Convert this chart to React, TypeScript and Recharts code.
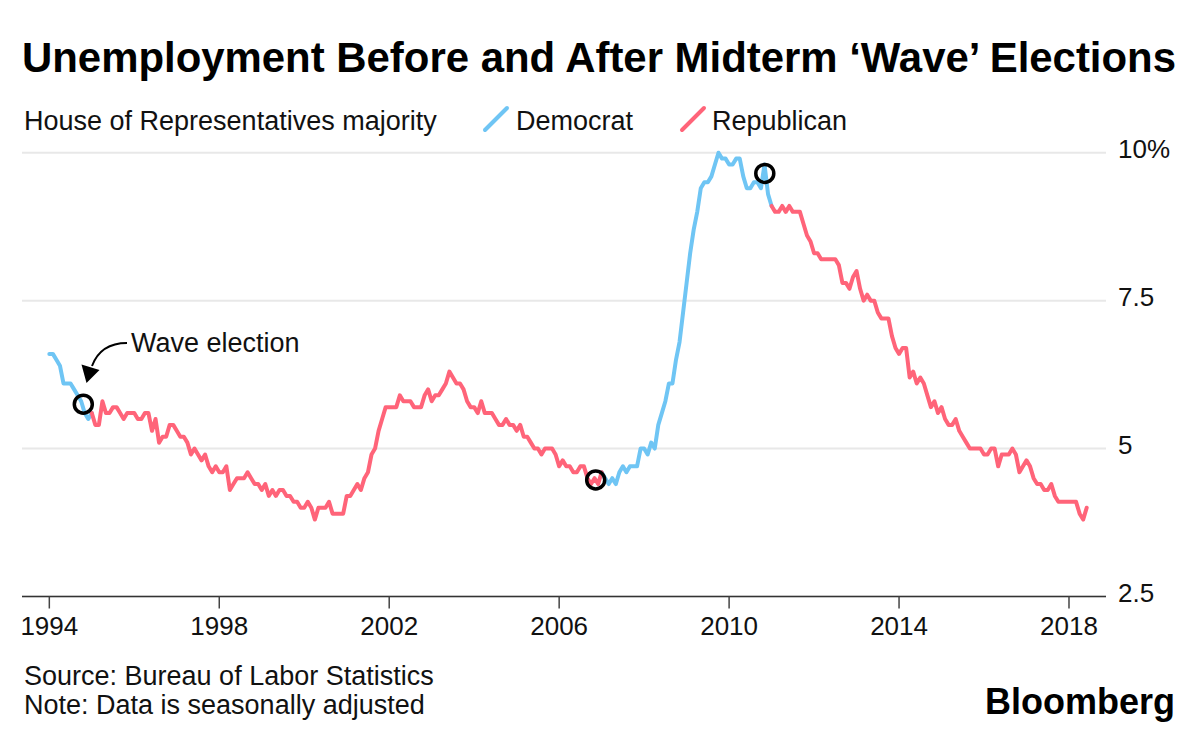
import React from 'react';
import { LineChart, Line, XAxis, YAxis, CartesianGrid, ReferenceDot } from 'recharts';

// Monthly U.S. unemployment rate (%), seasonally adjusted, one row per year starting 1994
const START_YEAR = 1994;
const monthlyRates: number[][] = [
  [6.6, 6.6, 6.5, 6.4, 6.1, 6.1, 6.1, 6.0, 5.9, 5.8, 5.6, 5.5], // 1994
  [5.6, 5.4, 5.4, 5.8, 5.6, 5.6, 5.7, 5.7, 5.6, 5.5, 5.6, 5.6], // 1995
  [5.6, 5.5, 5.5, 5.6, 5.6, 5.3, 5.5, 5.1, 5.2, 5.2, 5.4, 5.4], // 1996
  [5.3, 5.2, 5.2, 5.1, 4.9, 5.0, 4.9, 4.8, 4.9, 4.7, 4.6, 4.7], // 1997
  [4.6, 4.6, 4.7, 4.3, 4.4, 4.5, 4.5, 4.5, 4.6, 4.5, 4.4, 4.4], // 1998
  [4.3, 4.4, 4.2, 4.3, 4.2, 4.3, 4.3, 4.2, 4.2, 4.1, 4.1, 4.0], // 1999
  [4.0, 4.1, 4.0, 3.8, 4.0, 4.0, 4.0, 4.1, 3.9, 3.9, 3.9, 3.9], // 2000
  [4.2, 4.2, 4.3, 4.4, 4.3, 4.5, 4.6, 4.9, 5.0, 5.3, 5.5, 5.7], // 2001
  [5.7, 5.7, 5.7, 5.9, 5.8, 5.8, 5.8, 5.7, 5.7, 5.7, 5.9, 6.0], // 2002
  [5.8, 5.9, 5.9, 6.0, 6.1, 6.3, 6.2, 6.1, 6.1, 6.0, 5.8, 5.7], // 2003
  [5.7, 5.6, 5.8, 5.6, 5.6, 5.6, 5.5, 5.4, 5.4, 5.5, 5.4, 5.4], // 2004
  [5.3, 5.4, 5.2, 5.2, 5.1, 5.0, 5.0, 4.9, 5.0, 5.0, 5.0, 4.9], // 2005
  [4.7, 4.8, 4.7, 4.7, 4.6, 4.6, 4.7, 4.7, 4.5, 4.4, 4.5, 4.4], // 2006
  [4.6, 4.5, 4.4, 4.5, 4.4, 4.6, 4.7, 4.6, 4.7, 4.7, 4.7, 5.0], // 2007
  [5.0, 4.9, 5.1, 5.0, 5.4, 5.6, 5.8, 6.1, 6.1, 6.5, 6.8, 7.3], // 2008
  [7.8, 8.3, 8.7, 9.0, 9.4, 9.5, 9.5, 9.6, 9.8, 10.0, 9.9, 9.9], // 2009
  [9.8, 9.8, 9.9, 9.9, 9.6, 9.4, 9.4, 9.5, 9.5, 9.4, 9.8, 9.3], // 2010
  [9.1, 9.0, 9.0, 9.1, 9.0, 9.1, 9.0, 9.0, 9.0, 8.8, 8.6, 8.5], // 2011
  [8.3, 8.3, 8.2, 8.2, 8.2, 8.2, 8.2, 8.1, 7.8, 7.8, 7.7, 7.9], // 2012
  [8.0, 7.7, 7.5, 7.6, 7.5, 7.5, 7.3, 7.2, 7.2, 7.2, 6.9, 6.7], // 2013
  [6.6, 6.7, 6.7, 6.2, 6.3, 6.1, 6.2, 6.1, 5.9, 5.7, 5.8, 5.6], // 2014
  [5.7, 5.5, 5.4, 5.4, 5.5, 5.3, 5.2, 5.1, 5.0, 5.0, 5.0, 5.0], // 2015
  [4.9, 4.9, 5.0, 5.0, 4.7, 4.9, 4.9, 4.9, 5.0, 4.9, 4.6, 4.7], // 2016
  [4.8, 4.7, 4.5, 4.4, 4.4, 4.3, 4.3, 4.4, 4.2, 4.1, 4.1, 4.1], // 2017
  [4.1, 4.1, 4.1, 3.9, 3.8, 4.0], // 2018
];

// House majority periods (year fractions, January boundaries shared)
const democratMajority: [number, number][] = [[1994, 1995], [2007, 2011]];
const republicanMajority: [number, number][] = [[1995, 2007], [2011, 2019]];

// Midterm "wave" elections marked on the chart
const waveElections = [
  { date: 1994.8, rate: 5.75 },
  { date: 2006.86, rate: 4.47 },
  { date: 2010.84, rate: 9.65 },
];

const xTicks = [1994, 1998, 2002, 2006, 2010, 2014, 2018];
const yTicks = [2.5, 5, 7.5, 10];
const yTickLabels: Record<string, string> = { '2.5': '2.5', '5': '5', '7.5': '7.5', '10': '10%' };

const BLUE = '#6fc5f4';
const RED = '#ff6479';
const FONT = '"Liberation Sans", Arial, Helvetica, sans-serif';

const inPeriods = (t: number, periods: [number, number][]) =>
  periods.some(([s, e]) => t >= s - 1e-9 && t <= e + 1e-9);

const data = monthlyRates.flatMap((row, i) =>
  row.map((rate, m) => {
    const t = START_YEAR + i + m / 12;
    return {
      t,
      rate,
      dem: inPeriods(t, democratMajority) ? rate : null,
      rep: inPeriods(t, republicanMajority) ? rate : null,
    };
  })
);

const XTick = (props: any) => {
  const { x, y, payload } = props;
  return (
    <text x={x} y={y + 24} textAnchor="middle" fontSize={26} fill="#111" fontFamily={FONT}>
      {payload.value}
    </text>
  );
};

const YTick = (props: any) => {
  const { x, y, payload } = props;
  return (
    <text x={x} y={y + 5} textAnchor="start" fontSize={26} fill="#111" fontFamily={FONT}>
      {yTickLabels[String(payload.value)]}
    </text>
  );
};

export default function App() {
  return (
    <div style={{ position: 'absolute', left: 0, top: 0, width: 1200, height: 737, background: '#fff', overflow: 'hidden' }}>
      <div style={{ position: 'absolute', left: 0, top: 0 }}>
        <LineChart
          width={1200}
          height={737}
          data={data}
          margin={{ top: 152.7, right: 0, bottom: 100.5, left: 22 }}
        >
          <CartesianGrid vertical={false} stroke="#e8e8e8" strokeWidth={2} />
          <XAxis
            type="number"
            dataKey="t"
            domain={[1993.357, 2018.871]}
            allowDataOverflow
            ticks={xTicks}
            interval={0}
            height={40}
            tickSize={12}
            tickMargin={2}
            axisLine={{ stroke: '#333', strokeWidth: 1.5 }}
            tickLine={{ stroke: '#444', strokeWidth: 1.5 }}
            tick={<XTick />}
          />
          <YAxis
            orientation="right"
            domain={[2.5, 10]}
            ticks={yTicks}
            interval={0}
            width={94}
            axisLine={false}
            tickLine={false}
            tickSize={6}
            tickMargin={6}
            tick={<YTick />}
          />
          <Line
            type="linear"
            dataKey="dem"
            stroke={BLUE}
            strokeWidth={4}
            dot={false}
            activeDot={false}
            isAnimationActive={false}
            strokeLinejoin="round"
            strokeLinecap="round"
          />
          <Line
            type="linear"
            dataKey="rep"
            stroke={RED}
            strokeWidth={4}
            dot={false}
            activeDot={false}
            isAnimationActive={false}
            strokeLinejoin="round"
            strokeLinecap="round"
          />
          {waveElections.map((w) => (
            <ReferenceDot
              key={w.date}
              x={w.date}
              y={w.rate}
              r={9}
              fill="none"
              stroke="#000"
              strokeWidth={3.5}
            />
          ))}
        </LineChart>
      </div>
      <svg
        width={1200}
        height={737}
        style={{ position: 'absolute', left: 0, top: 0, pointerEvents: 'none' }}
      >
        <text
          x={22}
          y={72}
          fontSize={42.5}
          fontWeight="bold"
          fontFamily={FONT}
          fill="#000"
          textLength={1154}
          lengthAdjust="spacingAndGlyphs"
        >
          Unemployment Before and After Midterm ‘Wave’ Elections
        </text>
        <text x={24} y={130} fontSize={27} fontFamily={FONT} fill="#111">
          House of Representatives majority
        </text>
        <line x1={485} y1={130} x2={507} y2={108} stroke={BLUE} strokeWidth={4} strokeLinecap="round" />
        <text x={516} y={130} fontSize={27} fontFamily={FONT} fill="#111">
          Democrat
        </text>
        <line x1={682} y1={130} x2={704} y2={108} stroke={RED} strokeWidth={4} strokeLinecap="round" />
        <text x={712} y={130} fontSize={27} fontFamily={FONT} fill="#111">
          Republican
        </text>
        <text x={131} y={352} fontSize={27} fontFamily={FONT} fill="#111">
          Wave election
        </text>
        <path d="M127,343 C110,343 98,350 92,366" stroke="#000" strokeWidth={2} fill="none" />
        <polygon points="86.5,383 81.5,364.5 99.5,370" fill="#000" />
        <text x={24} y={685} fontSize={27} fontFamily={FONT} fill="#111">
          Source: Bureau of Labor Statistics
        </text>
        <text x={24} y={714} fontSize={27} fontFamily={FONT} fill="#111">
          Note: Data is seasonally adjusted
        </text>
        <text
          x={985}
          y={714}
          fontSize={36}
          fontWeight="bold"
          fontFamily={FONT}
          fill="#000"
          textLength={190}
          lengthAdjust="spacingAndGlyphs"
        >
          Bloomberg
        </text>
      </svg>
    </div>
  );
}
